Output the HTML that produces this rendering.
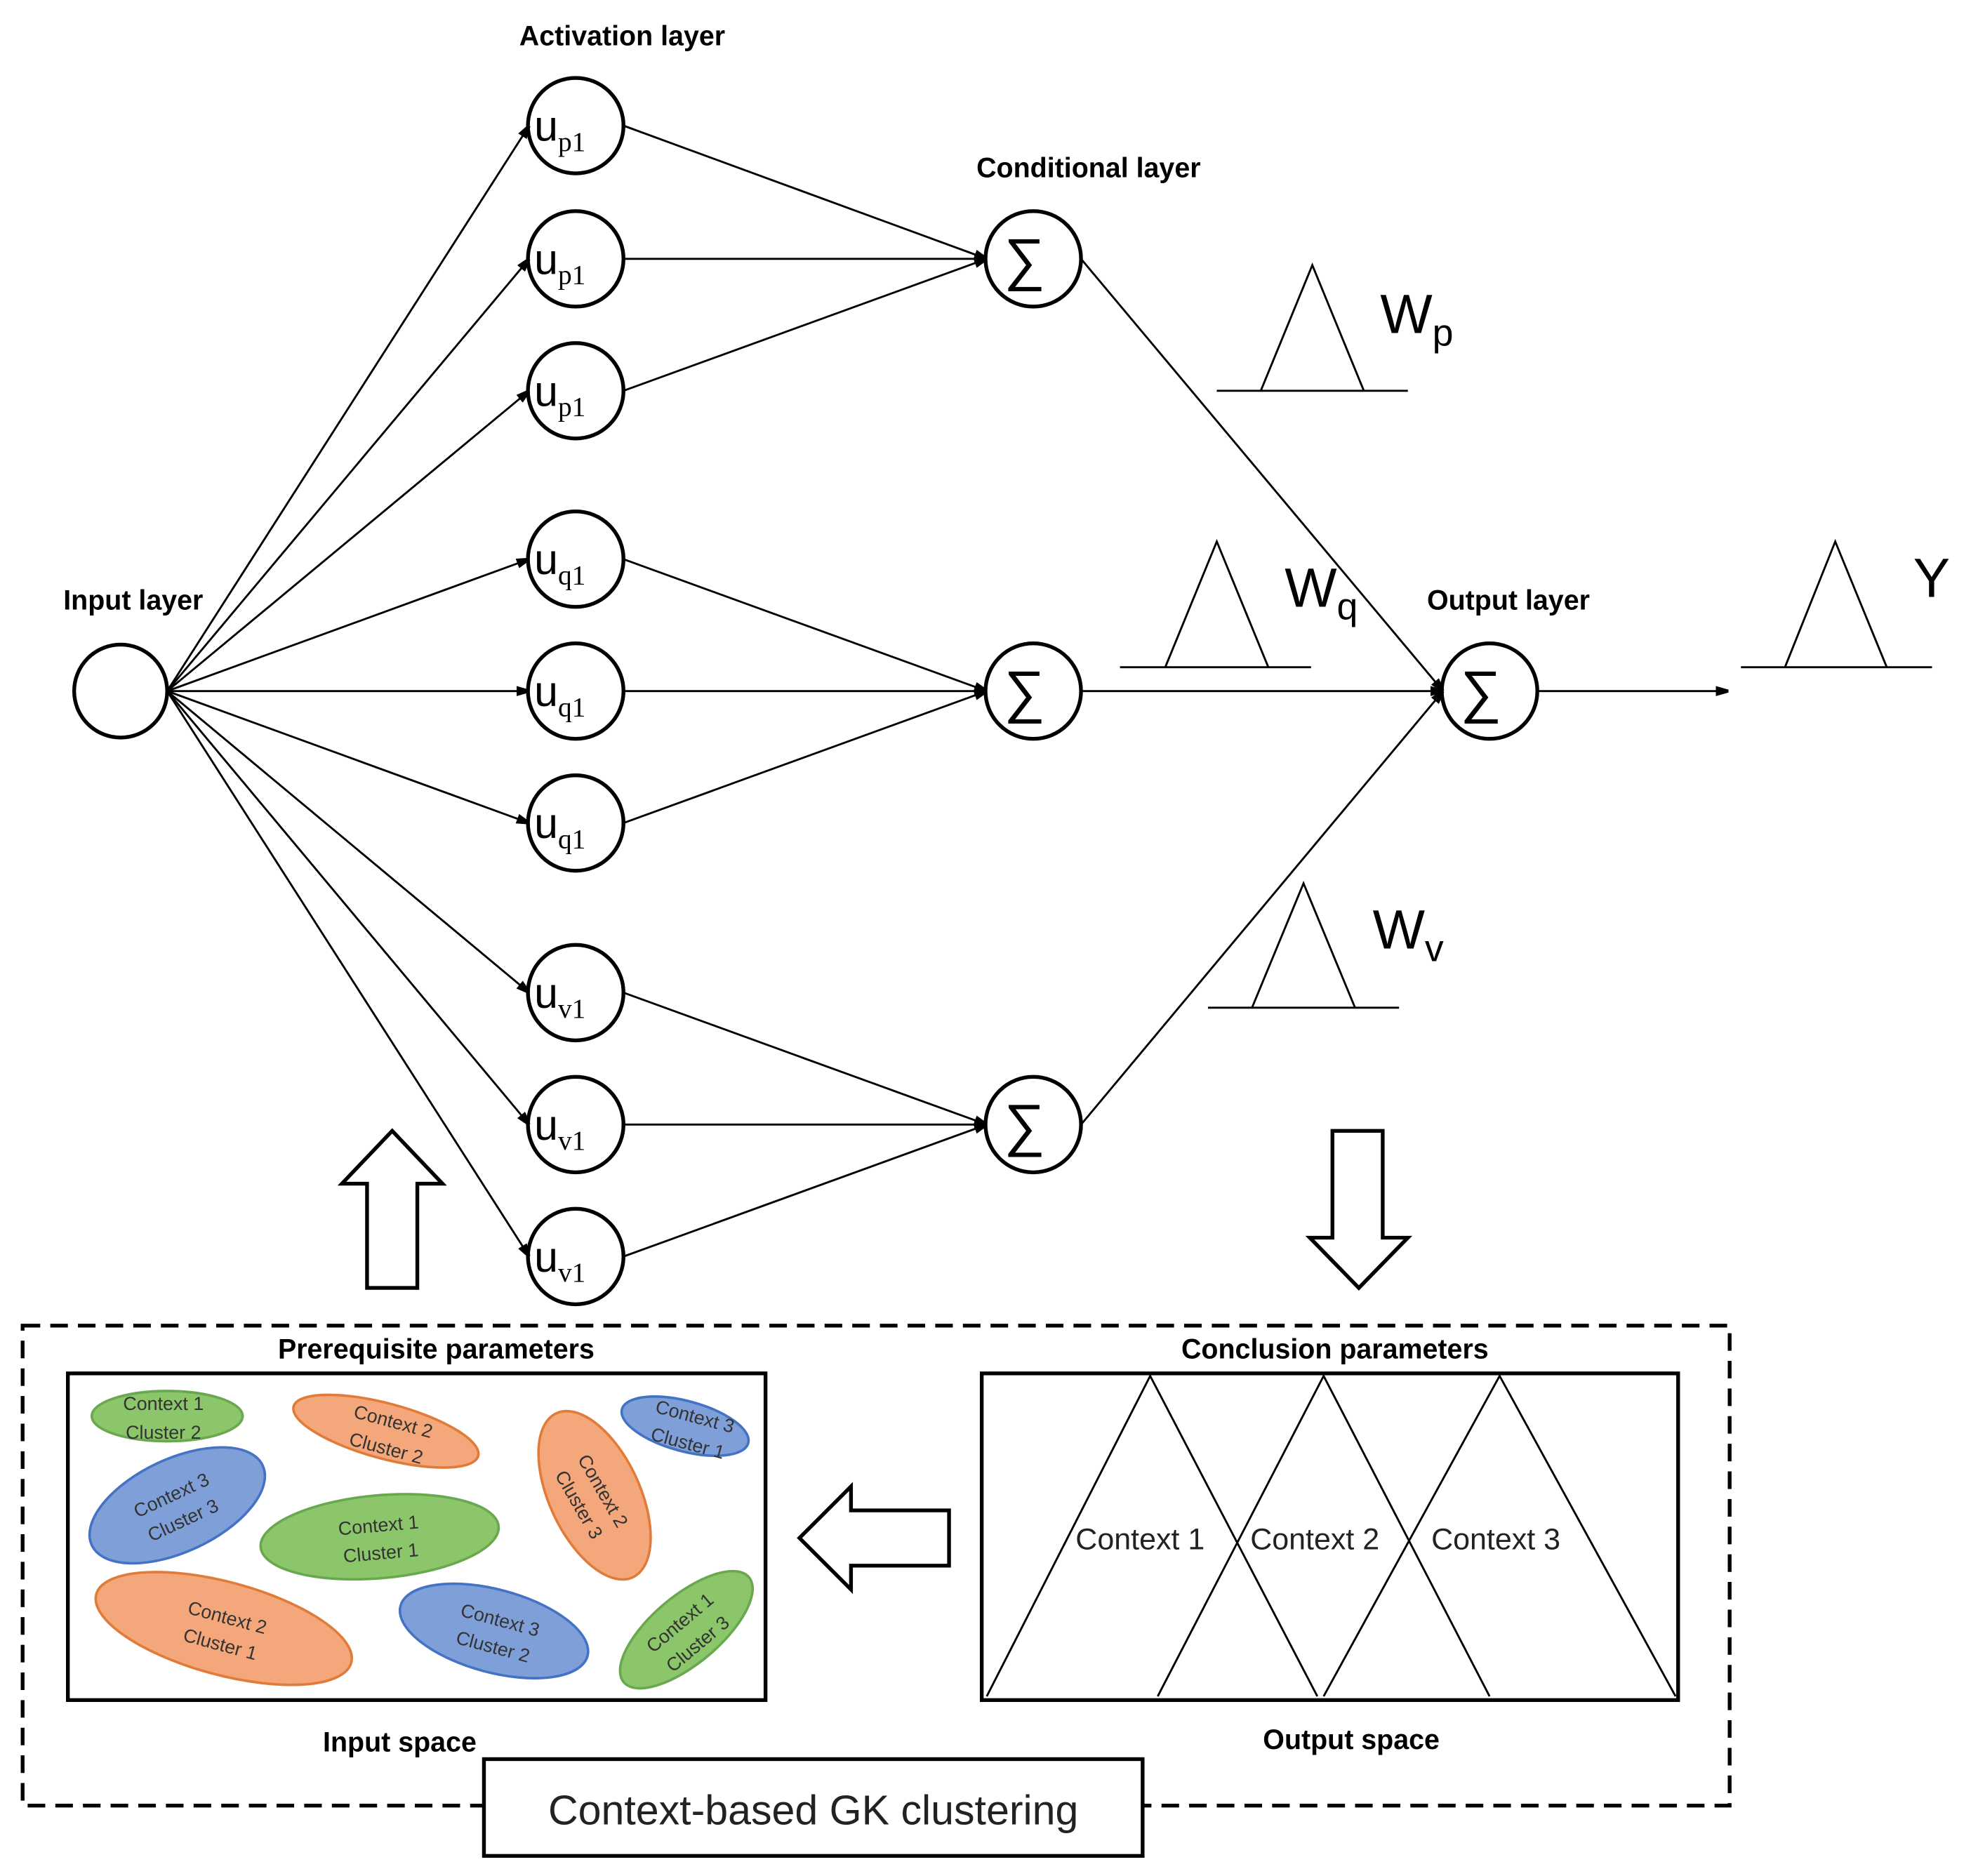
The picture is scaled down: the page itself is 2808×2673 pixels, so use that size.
<!DOCTYPE html>
<html><head><meta charset="utf-8"><style>
html,body{margin:0;padding:0;background:#fff}
svg{display:block}
text{font-family:"Liberation Sans",sans-serif}
.b{font-weight:bold;font-size:22px}
.u{font-family:"Liberation Serif",serif;font-size:34px}
.s{font-family:"Liberation Serif",serif;font-size:22px}
.c{font-family:"Liberation Mono",monospace;font-size:15px;fill:#333}
</style></head><body>
<svg width="2808" height="2673" viewBox="0 0 1568 1493" preserveAspectRatio="none" xmlns="http://www.w3.org/2000/svg">
<defs><marker id="a" markerWidth="10" markerHeight="8" refX="10" refY="4" orient="auto" markerUnits="userSpaceOnUse"><path d="M0,0L14,4L0,8z" fill="#000"/></marker></defs>
<g stroke="#000" stroke-width="1.6" fill="none">
<line x1="133" y1="550" x2="421" y2="100" marker-end="url(#a)"/>
<line x1="133" y1="550" x2="421" y2="206" marker-end="url(#a)"/>
<line x1="133" y1="550" x2="421" y2="311" marker-end="url(#a)"/>
<line x1="133" y1="550" x2="421" y2="445" marker-end="url(#a)"/>
<line x1="133" y1="550" x2="421" y2="550" marker-end="url(#a)"/>
<line x1="133" y1="550" x2="421" y2="655" marker-end="url(#a)"/>
<line x1="133" y1="550" x2="421" y2="790" marker-end="url(#a)"/>
<line x1="133" y1="550" x2="421" y2="895" marker-end="url(#a)"/>
<line x1="133" y1="550" x2="421" y2="1000" marker-end="url(#a)"/>
<line x1="496" y1="100" x2="785" y2="206" marker-end="url(#a)"/>
<line x1="496" y1="206" x2="785" y2="206" marker-end="url(#a)"/>
<line x1="496" y1="311" x2="785" y2="206" marker-end="url(#a)"/>
<line x1="496" y1="445" x2="785" y2="550" marker-end="url(#a)"/>
<line x1="496" y1="550" x2="785" y2="550" marker-end="url(#a)"/>
<line x1="496" y1="655" x2="785" y2="550" marker-end="url(#a)"/>
<line x1="496" y1="790" x2="785" y2="895" marker-end="url(#a)"/>
<line x1="496" y1="895" x2="785" y2="895" marker-end="url(#a)"/>
<line x1="496" y1="1000" x2="785" y2="895" marker-end="url(#a)"/>
<line x1="860" y1="206" x2="1148" y2="550" marker-end="url(#a)"/>
<line x1="860" y1="550" x2="1148" y2="550" marker-end="url(#a)"/>
<line x1="860" y1="895" x2="1148" y2="550" marker-end="url(#a)"/>
<line x1="1222" y1="550" x2="1375" y2="550" marker-end="url(#a)"/>
<circle cx="96" cy="550" r="37" stroke-width="3"/>
<g stroke-width="3">
<circle cx="458" cy="100" r="38"/><circle cx="458" cy="206" r="38"/><circle cx="458" cy="311" r="38"/>
<circle cx="458" cy="445" r="38"/><circle cx="458" cy="550" r="38"/><circle cx="458" cy="655" r="38"/>
<circle cx="458" cy="790" r="38"/><circle cx="458" cy="895" r="38"/><circle cx="458" cy="1000" r="38"/>
<circle cx="822" cy="206" r="38"/><circle cx="822" cy="550" r="38"/><circle cx="822" cy="895" r="38"/>
<circle cx="1185" cy="550" r="38"/>
</g>
<path d="M968,311H1120M1003,311L1044,211L1085,311"/>
<path d="M891,531H1043M927,531L968,431L1009,531"/>
<path d="M961,802H1113M996,802L1037,703L1078,802"/>
<path d="M1385,531H1537M1420,531L1460,431L1501,531"/>
<rect x="18" y="1055" width="1358" height="382" stroke-width="3" stroke-dasharray="14,8"/>
<rect x="54" y="1093" width="555" height="260" stroke-width="3"/>
<rect x="781" y="1093" width="554" height="260" stroke-width="3"/>
<path d="M785,1350L915,1095L1048,1350M921,1350L1053,1095L1185,1350M1053,1350L1193,1095L1333,1350"/>
<path d="M292,1025V942H272L312,900L352,942H332V1025Z" stroke-width="3"/>
<path d="M1060,900V985H1042L1081,1025L1120,985H1100V900Z" stroke-width="3"/>
<path d="M755,1202H677V1183L636,1224L677,1265V1246H755Z" stroke-width="3"/>
</g>
<rect x="385" y="1400" width="524" height="77" fill="#fff" stroke="#000" stroke-width="3"/>
<text x="647" y="1452" text-anchor="middle" font-size="33" fill="#222">Context-based GK clustering</text>
<g stroke-width="2">
<ellipse cx="133" cy="1127" rx="60" ry="20" fill="#8cc66a" stroke="#6aa84f"/>
<ellipse cx="307" cy="1139" rx="76" ry="22" transform="rotate(15 307 1139)" fill="#f4a77a" stroke="#e07b39"/>
<ellipse cx="473" cy="1190" rx="36" ry="72" transform="rotate(-25 473 1190)" fill="#f4a77a" stroke="#e07b39"/>
<ellipse cx="545" cy="1135" rx="52" ry="20" transform="rotate(15 545 1135)" fill="#7f9fd8" stroke="#4472c4"/>
<ellipse cx="141" cy="1198" rx="75" ry="37" transform="rotate(-25 141 1198)" fill="#7f9fd8" stroke="#4472c4"/>
<ellipse cx="302" cy="1223" rx="95" ry="33" transform="rotate(-5 302 1223)" fill="#8cc66a" stroke="#6aa84f"/>
<ellipse cx="178" cy="1296" rx="105" ry="37" transform="rotate(15 178 1296)" fill="#f4a77a" stroke="#e07b39"/>
<ellipse cx="393" cy="1298" rx="77" ry="33" transform="rotate(15 393 1298)" fill="#7f9fd8" stroke="#4472c4"/>
<ellipse cx="546" cy="1297" rx="65" ry="27" transform="rotate(-40 546 1297)" fill="#8cc66a" stroke="#6aa84f"/>
</g>
<g class="c" text-anchor="middle">
<text x="130" y="1122">Context 1</text><text x="130" y="1145">Cluster 2</text>
<text transform="translate(310,1142) rotate(15)"><tspan x="0" y="-6">Context 2</tspan><tspan x="0" y="16">Cluster 2</tspan></text>
<text transform="translate(470,1192) rotate(60)"><tspan x="0" y="-6">Context 2</tspan><tspan x="0" y="16">Cluster 3</tspan></text>
<text transform="translate(550,1138) rotate(15)"><tspan x="0" y="-6">Context 3</tspan><tspan x="0" y="16">Cluster 1</tspan></text>
<text transform="translate(141,1200) rotate(-25)"><tspan x="0" y="-6">Context 3</tspan><tspan x="0" y="16">Cluster 3</tspan></text>
<text transform="translate(302,1225) rotate(-5)"><tspan x="0" y="-6">Context 1</tspan><tspan x="0" y="16">Cluster 1</tspan></text>
<text transform="translate(178,1298) rotate(15)"><tspan x="0" y="-6">Context 2</tspan><tspan x="0" y="16">Cluster 1</tspan></text>
<text transform="translate(395,1300) rotate(15)"><tspan x="0" y="-6">Context 3</tspan><tspan x="0" y="16">Cluster 2</tspan></text>
<text transform="translate(548,1300) rotate(-40)"><tspan x="0" y="-6">Context 1</tspan><tspan x="0" y="16">Cluster 3</tspan></text>
</g>
<g font-size="24" fill="#222" font-family="Liberation Mono,monospace" text-anchor="middle">
<text x="907" y="1233">Context 1</text><text x="1046" y="1233">Context 2</text><text x="1190" y="1233">Context 3</text>
</g>
<g class="b" text-anchor="middle">
<text x="495" y="36">Activation layer</text>
<text x="866" y="141">Conditional layer</text>
<text x="106" y="485">Input layer</text>
<text x="1200" y="485">Output layer</text>
<text x="347" y="1081">Prerequisite parameters</text>
<text x="1062" y="1081">Conclusion parameters</text>
<text x="318" y="1394">Input space</text>
<text x="1075" y="1392">Output space</text>
</g>
<g class="u">
<text x="425" y="112">u<tspan class="s" dy="8">p1</tspan></text>
<text x="425" y="218">u<tspan class="s" dy="8">p1</tspan></text>
<text x="425" y="323">u<tspan class="s" dy="8">p1</tspan></text>
<text x="425" y="457">u<tspan class="s" dy="8">q1</tspan></text>
<text x="425" y="562">u<tspan class="s" dy="8">q1</tspan></text>
<text x="425" y="667">u<tspan class="s" dy="8">q1</tspan></text>
<text x="425" y="802">u<tspan class="s" dy="8">v1</tspan></text>
<text x="425" y="907">u<tspan class="s" dy="8">v1</tspan></text>
<text x="425" y="1012">u<tspan class="s" dy="8">v1</tspan></text>
</g>
<g font-family="Liberation Serif,serif" font-size="46" text-anchor="middle">
<text x="815" y="222">∑</text><text x="815" y="566">∑</text><text x="815" y="911">∑</text><text x="1178" y="566">∑</text>
</g>
<g font-family="Liberation Serif,serif" font-size="44">
<text x="1098" y="265">W<tspan font-size="30" dy="10">p</tspan></text>
<text x="1022" y="483">W<tspan font-size="30" dy="10">q</tspan></text>
<text x="1092" y="755">W<tspan font-size="30" dy="10">v</tspan></text>
<text x="1522" y="475">Y</text>
</g>
</svg>
</body></html>
